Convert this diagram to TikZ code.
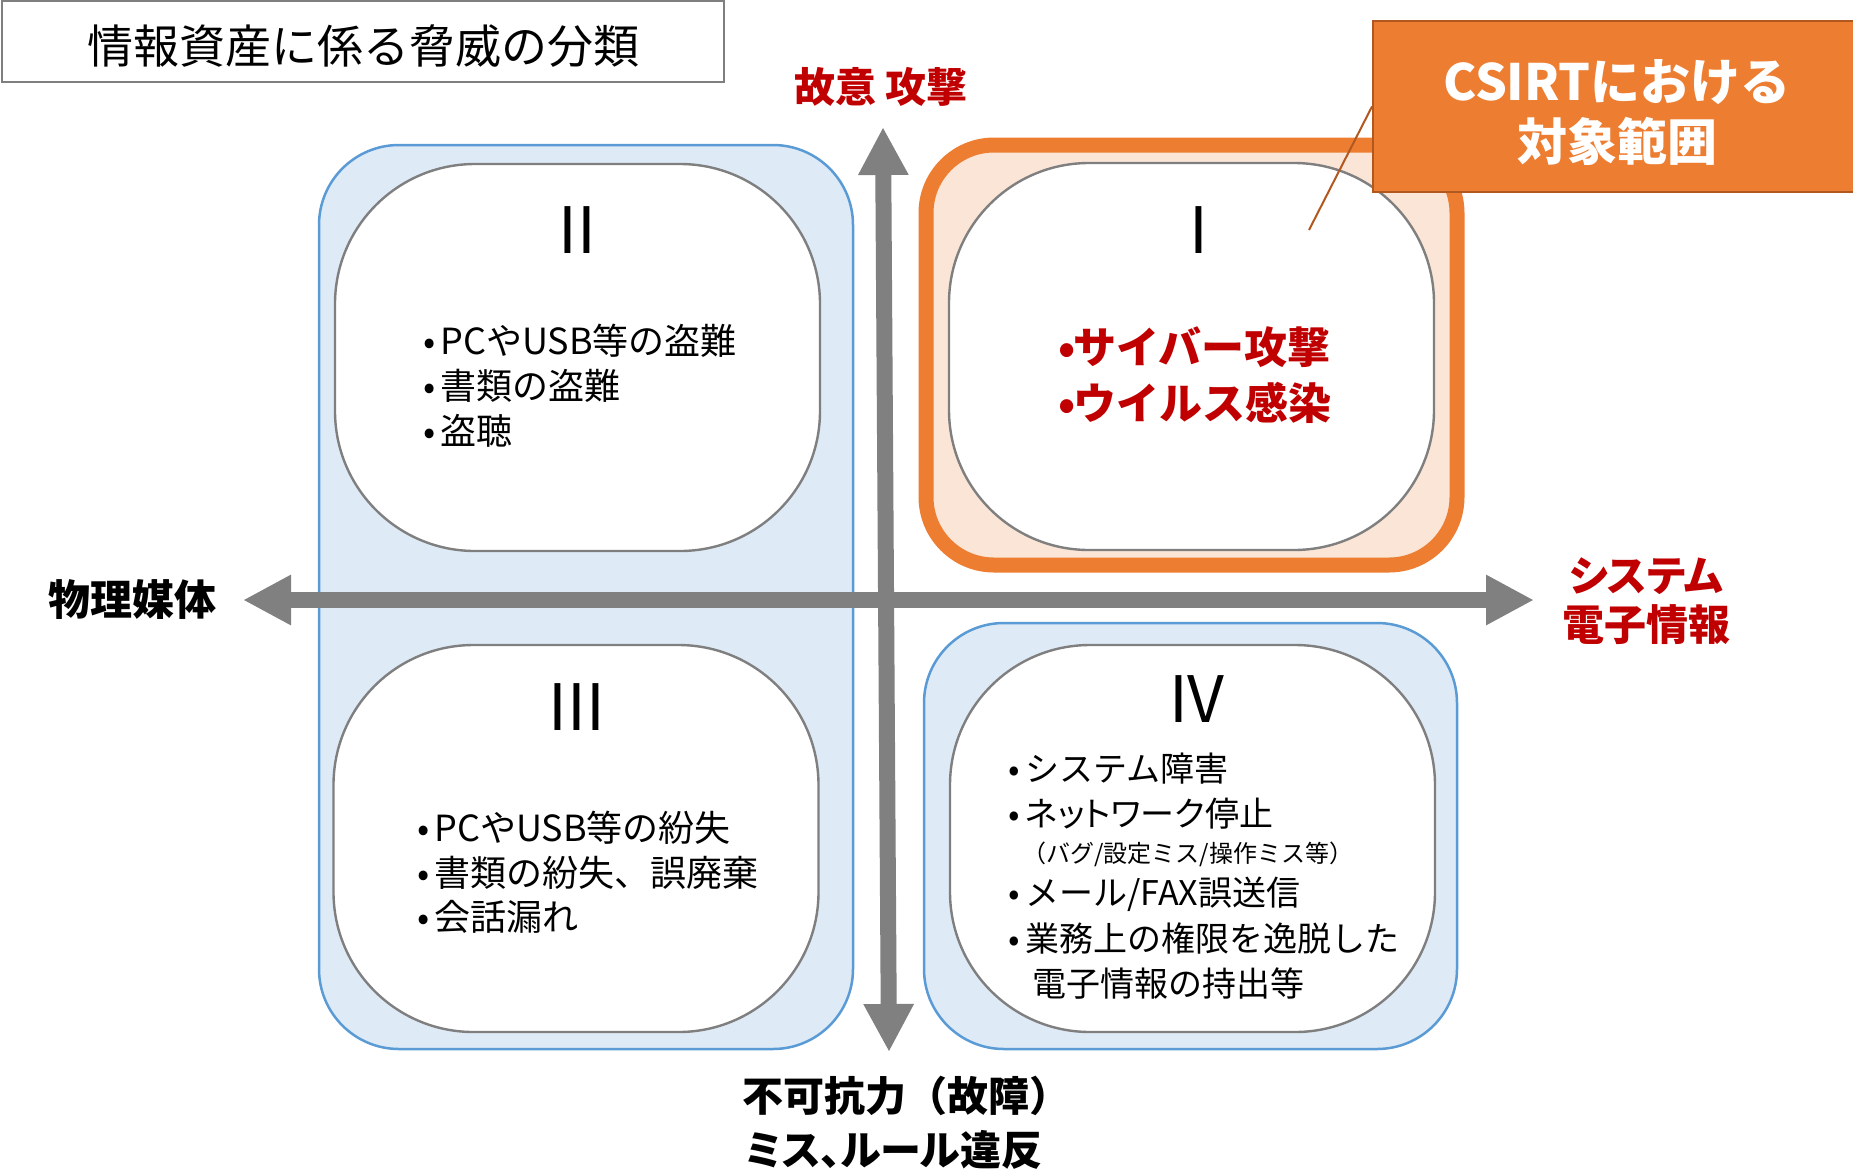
\documentclass[tikz,border=0pt]{standalone}
\usepackage{fontspec}
\setmainfont{Noto Sans CJK JP}
\usetikzlibrary{arrows.meta}
\definecolor{bluefill}{HTML}{DEEBF7}
\definecolor{blueline}{HTML}{5B9BD5}
\definecolor{orng}{HTML}{ED7D31}
\definecolor{orngfill}{HTML}{FBE5D6}
\definecolor{orngdark}{HTML}{B0581E}
\definecolor{redtxt}{HTML}{C00000}
\definecolor{axisgray}{HTML}{808080}
\definecolor{innergray}{HTML}{7F7F7F}
\newcommand\myfs[1]{\fontsize{#1pt}{#1pt}\selectfont}
\newcommand\mypalt{\addfontfeatures{RawFeature=+palt}}
\begin{document}
\begin{tikzpicture}[x=0.5pt,y=-0.5pt,
  bluebox/.style={draw=blueline, fill=bluefill, line width=1.25pt, rounded corners=40pt},
  orangebox/.style={draw=orng, fill=orngfill, line width=7.5pt, rounded corners=34pt},
  innerbox/.style={draw=innergray, fill=white, line width=1.2pt, rounded corners=70pt,
    minimum width=242.5pt, minimum height=193.5pt},
  numeral/.style={font=\myfs{32}, anchor=base, inner sep=0pt},
  itemtxt/.style={anchor=base west, inner sep=0pt, font=\myfs{18}},
  itemIV/.style={anchor=base west, inner sep=0pt, font=\myfs{17}},
  itemred/.style={anchor=base west, inner sep=0pt, font=\bfseries\myfs{21.5}, text=redtxt},
  axlabel/.style={inner sep=0pt, font=\bfseries\myfs{20.5}},
  axisline/.style={draw=axisgray, line width=8pt,
    {Triangle[length=24pt,width=23.5pt]}-{Triangle[length=24pt,width=23.5pt]}}]
\useasboundingbox (0,0) rectangle (1853,1174);

% title
\node[draw=innergray, line width=1pt, minimum width=361pt, minimum height=40.5pt,
      inner sep=0pt] (titlebox) at (363,41.5) {};
\node[anchor=base, inner sep=0pt, font=\myfs{23}] (title) at (363,63) {情報資産に係る脅威の分類};

% quadrant backgrounds
\node[bluebox, minimum width=267pt, minimum height=452pt] (boxL) at (586,597) {};
\node[bluebox, minimum width=266.5pt, minimum height=213pt] (boxIV) at (1190.5,836) {};
\node[orangebox, minimum width=265.5pt, minimum height=210pt] (boxI) at (1191.5,355) {};

% inner shapes
\node[innerbox] (inII) at (577.5,357.5) {};
\node[innerbox] (inIII) at (576,838.5) {};
\node[innerbox] (inI) at (1191.5,356.5) {};
\node[innerbox] (inIV) at (1192.5,838.5) {};

% axes
\coordinate (hl) at (243,600);
\coordinate (hr) at (1534,600);
\coordinate (vt) at (883,127);
\coordinate (vb) at (889,1052);
\draw[axisline] (hl) -- (hr);
\draw[axisline] (vt) -- (vb);

% axis labels
\node[axlabel, text=redtxt, anchor=base] (lblTop) at (881,102) {故意 攻撃};
\node[axlabel, anchor=base, font=\bfseries\myfs{21}] (lblLeft) at (132,615) {物理媒体};
\node[axlabel, text=redtxt, anchor=base, font=\bfseries\myfs{21}\mypalt] (lblRight1) at (1646,591) {システム};
\node[axlabel, text=redtxt, anchor=base, font=\bfseries\myfs{21}] (lblRight2) at (1646,640) {電子情報};
\node[axlabel, anchor=base west] (lblBot1) at (742,1111) {不可抗力（故障）};
\node[axlabel, anchor=base west, font=\bfseries\myfs{20.5}\mypalt] (lblBot2) at (745,1165) {ミス、ルール違反};

% numerals
\node[numeral] (nII) at (577,253) {II};
\node[numeral] (nI) at (1199,253) {I};
\node[numeral] (nIII) at (577,730) {III};
\node[numeral] (nIV) at (1197,722) {IV};

% II items
\node[itemtxt] (ii1) at (423,354) {\makebox[8.5pt][l]{•}PCやUSB等の盗難};
\node[itemtxt] (ii2) at (423,399) {\makebox[8.5pt][l]{•}書類の盗難};
\node[itemtxt] (ii3) at (423,444) {\makebox[8.5pt][l]{•}盗聴};

% III items
\node[itemtxt] (iii1) at (417,841) {\makebox[8.5pt][l]{•}PCやUSB等の紛失};
\node[itemtxt] (iii2) at (417,886) {\makebox[8.5pt][l]{•}書類の紛失、誤廃棄};
\node[itemtxt] (iii3) at (417,930) {\makebox[8.5pt][l]{•}会話漏れ};

% I items
\node[itemred] (i1) at (1058,363) {\makebox[7.5pt][l]{•}サイバー攻撃};
\node[itemred] (i2) at (1058,419) {\makebox[7.5pt][l]{•}ウイルス感染};

% IV items
\node[itemIV] (iv1) at (1008,781) {\makebox[8.5pt][l]{•}システム障害};
\node[itemIV] (iv2) at (1008,826) {\makebox[8.5pt][l]{•}{\mypalt ネットワーク}停止};
\node[anchor=base west, inner sep=0pt, font=\myfs{12}] (iv2b) at (1022,862) {（バグ/設定ミス/操作ミス等）};
\node[itemIV] (iv3) at (1008,905) {\makebox[8.5pt][l]{•}メール/FAX誤送信};
\node[itemIV] (iv4) at (1008,951) {\makebox[8.5pt][l]{•}業務上の権限を逸脱した};
\node[itemIV] (iv4b) at (1032,996) {電子情報の持出等};

% CSIRT callout
\node[fill=orng, draw=orngdark, line width=1pt, minimum width=243.5pt,
      minimum height=85.5pt, inner sep=0pt] (csirt) at (1616.5,106.5) {};
\node[align=center, text=white, inner sep=0pt, font=\bfseries\myfs{25}] (csirttxt)
  at (1617,113) {CSIRTにおける\\[5pt]対象範囲};
\coordinate (ptr) at (1309,230);
\draw[orngdark, line width=1pt] (ptr) -- (csirt.west);
\end{tikzpicture}
\end{document}
